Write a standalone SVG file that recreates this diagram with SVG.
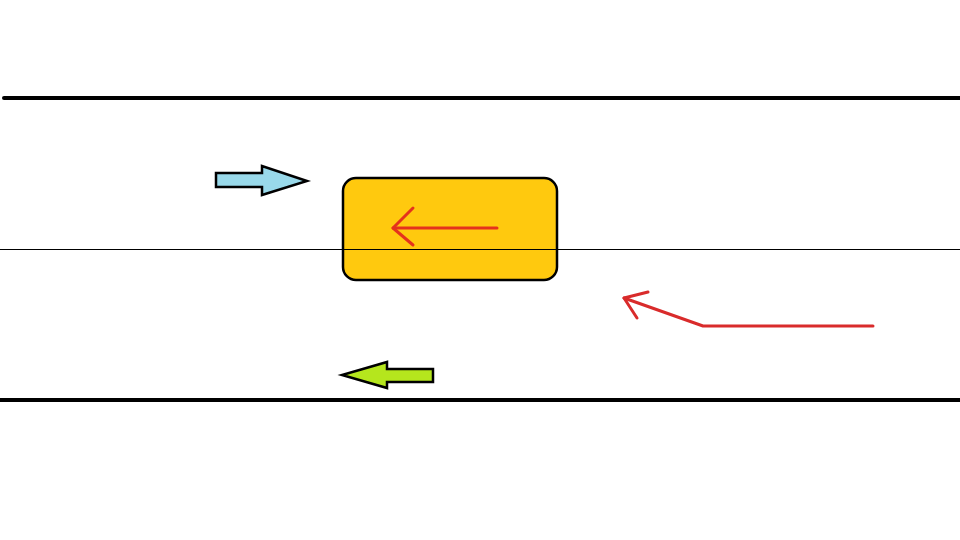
<svg xmlns="http://www.w3.org/2000/svg" width="960" height="540" viewBox="0 0 960 540">
<style>
.edge{stroke:#000;stroke-width:4;stroke-linecap:round}
.arrowshape{stroke:#000;stroke-width:2.5;stroke-linejoin:miter}
.red{fill:none;stroke-width:3;stroke-linecap:round;stroke-linejoin:round}
</style>
<rect width="960" height="540" fill="#fff"/>
<line class="edge" x1="4" y1="98" x2="962" y2="98"/>
<line class="edge" x1="-2" y1="400" x2="962" y2="400"/>
<g id="blue-arrow">
<polygon class="arrowshape" fill="#99d9ea" points="216,173 262,173 262,166 307,181 262,195 262,187 216,187"/>
</g>
<g id="green-arrow">
<polygon class="arrowshape" fill="#b5e61d" points="433,369 387,369 387,362 342,375 387,388 387,382 433,382"/>
</g>
<g id="car">
<rect x="343" y="178" width="214" height="102" rx="13" fill="#ffc90e" stroke="#000" stroke-width="2.5"/>
<polyline class="red" stroke="#e5321c" points="497,228 393,228"/>
<polyline class="red" stroke="#e5321c" points="413,208 393,228 413,245"/>
</g>
<line x1="0" y1="249.5" x2="960" y2="249.5" stroke="#000" stroke-width="1"/>
<g id="red-path">
<polyline class="red" stroke="#d92b2b" points="873,326 703,326 624,298"/>
<polyline class="red" stroke="#d92b2b" points="648,292 624,298 637,318"/>
</g>
</svg>
